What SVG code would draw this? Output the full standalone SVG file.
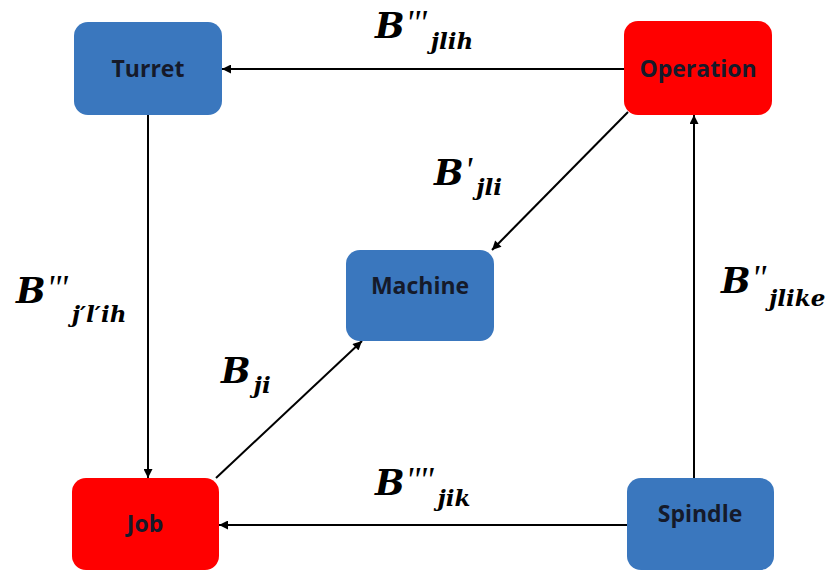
<svg xmlns="http://www.w3.org/2000/svg" width="832" height="573" viewBox="0 0 832 573">
  <style>
    .node-blue { fill: #3a77be; }
    .node-red { fill: #ff0000; }
    .node-label { font-family: "Open Sans", "Liberation Sans", sans-serif; font-weight: bold; font-size: 23px; fill: #151a2a; text-anchor: middle; dominant-baseline: central; }
    .edge { stroke: #000; stroke-width: 2; fill: none; marker-end: url(#arrow); }
    .math { font-family: "DejaVu Serif", "Liberation Serif", serif; font-weight: bold; font-style: italic; fill: #000; }
    .big { font-size: 35px; }
    .sub { font-size: 23px; }
    .prime { font-family: "Liberation Serif", serif; font-size: 36px; font-weight: normal; letter-spacing: -1px; }
  </style>
  <defs>
    <marker id="arrow" viewBox="0 0 10 10" refX="10" refY="5" markerWidth="10" markerHeight="9" markerUnits="userSpaceOnUse" orient="auto">
      <path d="M0,0 L10,5 L0,10 z" fill="#000"/>
    </marker>
  </defs>
  <rect width="832" height="573" fill="#fff"/>

  <g id="connectors">
    <line class="edge" x1="624" y1="69" x2="222" y2="69"/>
    <line class="edge" x1="148" y1="115" x2="148" y2="478"/>
    <line class="edge" x1="216" y1="478" x2="362" y2="341"/>
    <line class="edge" x1="628" y1="112" x2="492" y2="250"/>
    <line class="edge" x1="694" y1="478" x2="694" y2="115"/>
    <line class="edge" x1="627" y1="525" x2="219" y2="525"/>
  </g>

  <g id="turret">
    <rect class="node-blue" x="74" y="22" width="148" height="93" rx="14"/>
    <text class="node-label" x="148" y="68">Turret</text>
  </g>
  <g id="operation">
    <rect class="node-red" x="624" y="21" width="148" height="94" rx="14"/>
    <text class="node-label" x="698" y="68">Operation</text>
  </g>
  <g id="machine">
    <rect class="node-blue" x="346" y="250" width="148" height="91" rx="14"/>
    <text class="node-label" x="420" y="285">Machine</text>
  </g>
  <g id="job">
    <rect class="node-red" x="72" y="478" width="147" height="92" rx="14"/>
    <text class="node-label" x="145" y="523">Job</text>
  </g>
  <g id="spindle">
    <rect class="node-blue" x="627" y="478" width="147" height="92" rx="14"/>
    <text class="node-label" x="700" y="513">Spindle</text>
  </g>

  <g id="labels">
    <text class="math" x="375" y="38"><tspan class="big">B</tspan><tspan class="prime" dx="1" y="35">'''</tspan><tspan class="sub" dx="5" y="49">jlih</tspan></text>
    <text class="math" x="434" y="185"><tspan class="big">B</tspan><tspan class="prime" dx="1" y="182">'</tspan><tspan class="sub" dx="5" y="195">jli</tspan></text>
    <text class="math" x="16" y="303"><tspan class="big">B</tspan><tspan class="prime" dx="1" y="300">'''</tspan><tspan class="sub" dx="5" y="322">j′l′ih</tspan></text>
    <text class="math" x="721" y="293"><tspan class="big">B</tspan><tspan class="prime" dx="1" y="290">''</tspan><tspan class="sub" dx="4" y="306">jlike</tspan></text>
    <text class="math" x="221" y="383"><tspan class="big">B</tspan><tspan class="sub" dx="3" y="393">ji</tspan></text>
    <text class="math" x="375" y="495"><tspan class="big">B</tspan><tspan class="prime" dx="1" y="492">''''</tspan><tspan class="sub" dx="5" y="506">jik</tspan></text>
  </g>
</svg>
